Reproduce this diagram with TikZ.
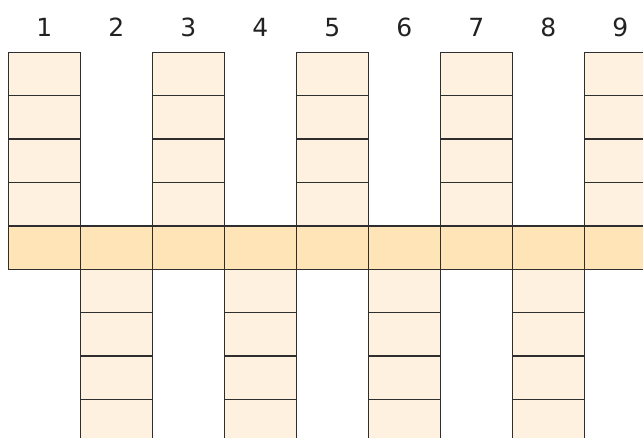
\documentclass[tikz,border=0pt]{standalone}
\usepackage{fontspec}
\setsansfont{DejaVu Sans}
\definecolor{cellfill}{HTML}{FEF1E0}
\definecolor{rowfill}{HTML}{FEE4B6}
\definecolor{cellline}{HTML}{2E2E2E}
\definecolor{numtext}{HTML}{222222}
\tikzset{
  cell/.style={draw=cellline, line width=1.5pt, fill=cellfill, minimum width=72pt,
    minimum height=43.4pt, inner sep=0pt, outer sep=0pt},
  keyrow/.style={cell, fill=rowfill},
  colnum/.style={text=numtext, font=\sffamily\fontsize{25}{25}\selectfont, inner sep=0pt}
}
\begin{document}
\begin{tikzpicture}[x=1pt,y=-1pt]

	\useasboundingbox (0,0) rectangle (643,438);
	\clip (0,0) rectangle (643,438);
	\foreach[evaluate={\cx=44.3+(\i-1)*72;}] \i in {1,...,9}{
		\node[colnum] (n\i) at (\cx,27.5) {\i};
	}
	\foreach[evaluate={\cx=44.3+(\i-1)*72;}] \i in {1,3,...,9}{
		\foreach[evaluate={\cy=74+(\j-1)*43.4;}] \j in {1,...,4}{
			\node[cell] (c\i-\j) at (\cx,\cy) {};
		}
	}
	\foreach[evaluate={\cx=44.3+(\i-1)*72;}] \i in {2,4,...,8}{
		\foreach[evaluate={\cy=74+(\j-1)*43.4;}] \j in {6,...,9}{
			\node[cell] (c\i-\j) at (\cx,\cy) {};
		}
	}
	\foreach[evaluate={\cx=44.3+(\i-1)*72;}] \i in {1,...,9}{
		\node[keyrow] (c\i-5) at (\cx,{74+4*43.4}) {};
	}

\end{tikzpicture}
\end{document}
